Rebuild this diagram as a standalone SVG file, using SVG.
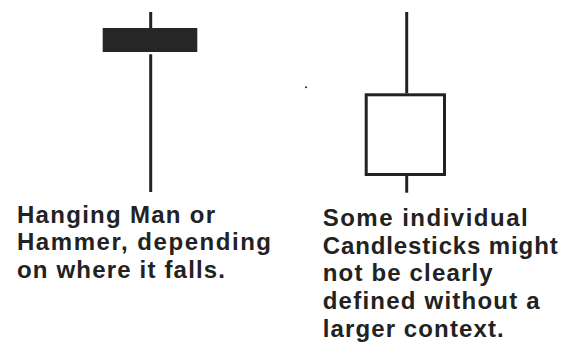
<svg xmlns="http://www.w3.org/2000/svg" width="564" height="358" viewBox="0 0 564 358">
<style>
.wick{stroke:#222;stroke-width:3;fill:none}
.lbl{font-family:"Liberation Sans",Arial,sans-serif;font-weight:bold;font-size:24px;fill:#222}
</style>
<rect width="564" height="358" fill="#fff"/>
<g id="hanging-man">
<line class="wick" x1="150.7" y1="12" x2="150.7" y2="28"/>
<rect x="102.7" y="28" width="94.6" height="24" fill="#262626"/>
<line class="wick" x1="150.7" y1="54.3" x2="150.7" y2="192"/>
</g>
<g id="candle-hollow">
<line class="wick" x1="406.7" y1="12" x2="406.7" y2="93.3"/>
<rect x="366.2" y="94.8" width="78.3" height="79.7" fill="#fff" stroke="#222" stroke-width="3"/>
<line class="wick" x1="406.7" y1="176" x2="406.7" y2="192.7"/>
</g>
<rect x="305" y="86.5" width="2" height="1.6" fill="#333"/>
<g id="label-left">
<text class="lbl" x="17" y="222.5" textLength="198" lengthAdjust="spacing">Hanging Man or</text>
<text class="lbl" x="17" y="250" textLength="254" lengthAdjust="spacing">Hammer, depending</text>
<text class="lbl" x="17" y="277.5" textLength="208" lengthAdjust="spacing">on where it falls.</text>
</g>
<g id="label-right">
<text class="lbl" x="322.7" y="226" textLength="205" lengthAdjust="spacing">Some individual</text>
<text class="lbl" x="322.7" y="253.7" textLength="235" lengthAdjust="spacing">Candlesticks might</text>
<text class="lbl" x="322.7" y="281.4" textLength="170" lengthAdjust="spacing">not be clearly</text>
<text class="lbl" x="322.7" y="309" textLength="217" lengthAdjust="spacing">defined without a</text>
<text class="lbl" x="322.7" y="336.7" textLength="181" lengthAdjust="spacing">larger context.</text>
</g>
</svg>
